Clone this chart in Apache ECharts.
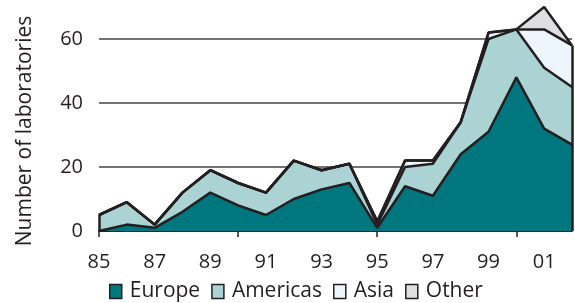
<!DOCTYPE html>
<html>
<head>
<meta charset="utf-8">
<script src="https://cdn.jsdelivr.net/npm/echarts@6/dist/echarts.min.js"></script>
<style>
  html, body { margin: 0; padding: 0; background: #fff; }
  #chart { width: 575px; height: 303px; }
</style>
</head>
<body>
<div id="chart"></div>
<script>
// years 1985..2002
const years = ['85', '86', '87', '88', '89', '90', '91', '92', '93', '94', '95', '96', '97', '98', '99', '00', '01', '02'];
const europe   = [0, 2, 1, 6, 12, 8, 5, 10, 13, 15, 1, 14, 11, 24, 31, 48, 32, 27];
const americas = [5, 7, 1, 6, 7, 7, 7, 12, 6, 6, 1, 6, 10, 10, 29, 15, 19, 18];
const asia     = [0, 0, 0, 0, 0, 0, 0, 0, 0, 0, 1, 2, 1, 0, 2, 0, 12, 13];
const other    = [0, 0, 0, 0, 0, 0, 0, 0, 0, 0, 0, 0, 0, 0, 0, 0, 7, 0];
const yTicks = [0, 20, 40, 60];

const ink = '#231f20';
const font = '"Open Sans", sans-serif';

// totals at both ends, for the vertical edges of the stack
const last = years.length - 1;
const totalAt = i => europe[i] + americas[i] + asia[i] + other[i];

const chart = echarts.init(document.getElementById('chart'));

const mkSeries = (name, data, color) => ({
  name: name,
  type: 'line',
  stack: 'labs',
  data: data,
  symbol: 'none',
  color: color,
  lineStyle: { color: ink, width: 2.5 },
  areaStyle: { color: color, opacity: 1 },
  itemStyle: { color: color, borderColor: ink, borderWidth: 1.5 },
  emphasis: { disabled: true },
  animation: false
});

const series = [
  mkSeries('Europe', europe, '#00767e'),
  mkSeries('Americas', americas, '#acd3d3'),
  mkSeries('Asia', asia, '#eef6fd'),
  mkSeries('Other', other, '#dfdfe1')
];
series[3].markLine = {
  silent: true,
  symbol: 'none',
  label: { show: false },
  lineStyle: { color: ink, width: 2.5, type: 'solid' },
  data: [
    [{ coord: [0, 0] }, { coord: [0, totalAt(0)] }],
    [{ coord: [last, 0] }, { coord: [last, totalAt(last)] }]
  ]
};

chart.setOption({
  animation: false,
  grid: { left: 99, right: 3, top: 7, bottom: 72 },
  legend: {
    left: 104,
    top: 276,
    icon: 'rect',
    itemWidth: 12,
    itemHeight: 14,
    itemGap: 11,
    selectedMode: false,
    data: ['Europe', 'Americas', 'Asia', 'Other'],
    itemStyle: { borderColor: ink, borderWidth: 1.5 },
    textStyle: { fontFamily: font, fontSize: 21, color: ink, padding: [0, 0, 0, 3] }
  },
  xAxis: {
    type: 'category',
    data: years,
    boundaryGap: false,
    axisLine: { lineStyle: { color: ink, width: 2 } },
    axisTick: {
      show: true,
      length: 6,
      interval: idx => idx % 5 === 0,
      lineStyle: { color: ink, width: 1.5 }
    },
    axisLabel: {
      interval: idx => idx % 2 === 0,
      margin: 21,
      fontFamily: font,
      fontSize: 20,
      color: ink
    },
    splitLine: { show: false }
  },
  yAxis: {
    type: 'value',
    min: yTicks[0],
    max: 70,
    interval: 20,
    axisLine: { show: false },
    axisTick: { show: false },
    axisLabel: {
      margin: 16,
      showMaxLabel: false,
      fontFamily: font,
      fontSize: 20,
      color: ink
    },
    splitLine: { show: true, showMaxLine: false, lineStyle: { color: '#444', width: 1.5 } }
  },
  graphic: [{
    type: 'text',
    x: 25,
    y: 131,
    rotation: Math.PI / 2,
    style: {
      text: 'Number of laboratories',
      fontFamily: font,
      fontSize: 21,
      fill: ink,
      align: 'center',
      verticalAlign: 'middle'
    }
  }],
  series: series
});
</script>
</body>
</html>
